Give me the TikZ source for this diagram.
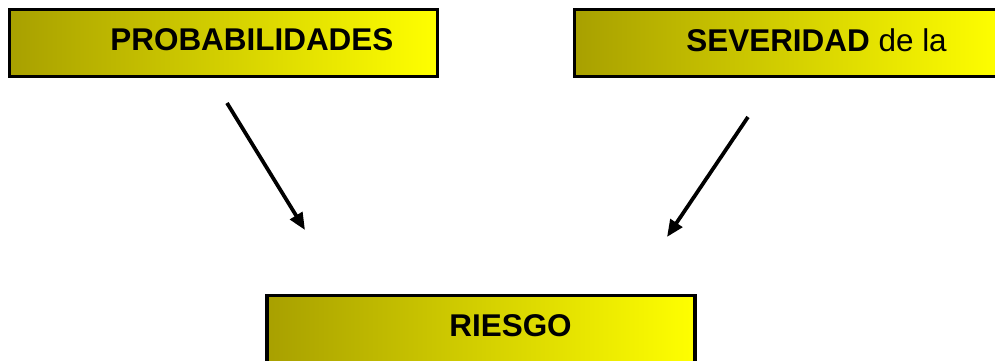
\documentclass[tikz,border=0pt]{standalone}
\usepackage{fontspec}
\setmainfont{Liberation Sans}
\usepackage{tikz}
\usetikzlibrary{positioning,arrows.meta}

\definecolor{OliveDark}{RGB}{168,160,0}
\definecolor{PureYellow}{RGB}{255,255,0}

\begin{document}
\begin{tikzpicture}[
x=0.02cm, y=-0.02cm,
box/.style={draw=black, line width=0.075cm, left color=OliveDark, right color=PureYellow, minimum width=8.56cm, minimum height=1.34cm, inner sep=0pt},
lbl/.style={inner sep=0pt, anchor=west, font=\fontsize{17.9}{20}\selectfont},
arrow/.style={-{Triangle[length=0.34cm, width=0.28cm]}, line width=0.075cm, black}
]
\clip (0,0) rectangle (995,361);
% boxes
\node[box] (prob) at (223.5,43) {};
\node[box] (sev) at (788.5,43) {};
\node[box] (risk) at (481,329) {};
% labels
\node[lbl] (probtxt) at (110,40) {\textbf{PROBABILIDADES}};
\node[lbl] (sevtxt) at (686,40) {\textbf{SEVERIDAD} de la};
\node[lbl] (risktxt) at (449,326) {\textbf{RIESGO}};
% arrow ends
\coordinate (a1) at (227,103);
\coordinate (b1) at (305,230);
\coordinate (a2) at (748,117);
\coordinate (b2) at (667,237);
\draw[arrow] (a1) -- (b1);
\draw[arrow] (a2) -- (b2);
\end{tikzpicture}
\end{document}
